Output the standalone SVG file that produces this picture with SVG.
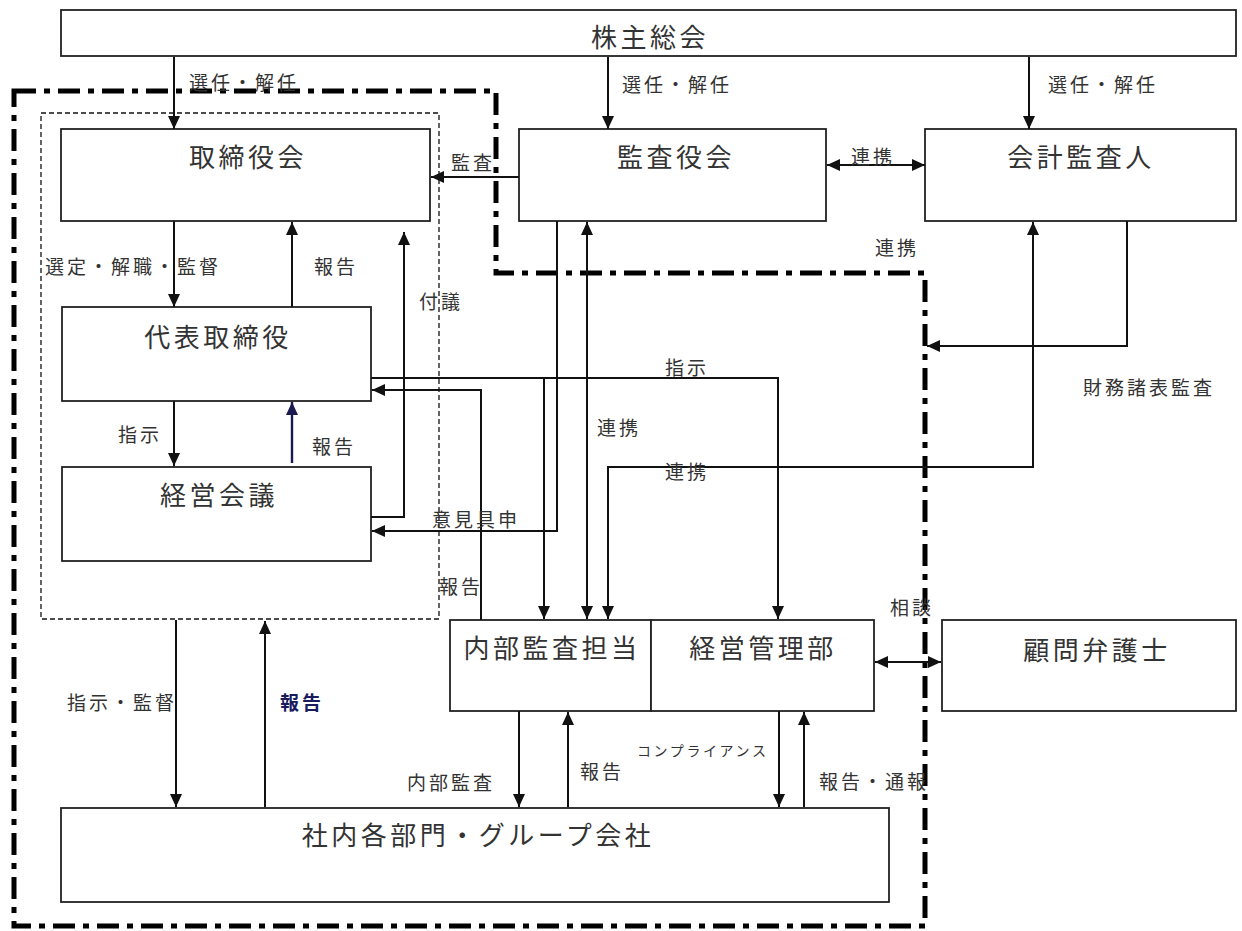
<svg xmlns="http://www.w3.org/2000/svg" width="1242" height="931" viewBox="0 0 1242 931">
<defs>
<style>
.box{fill:#fff;stroke:#222;stroke-width:1.8}
.nt{font-family:"Noto Sans CJK JP","Noto Sans",sans-serif;font-size:26px;letter-spacing:3.5px;fill:#333;text-anchor:middle}
.lb{font-family:"Noto Sans CJK JP","Noto Sans",sans-serif;font-size:19px;letter-spacing:3px;fill:#333}
.ln{fill:none;stroke:#111;stroke-width:2}
.ar{marker-end:url(#a)}
.dbl{marker-start:url(#a);marker-end:url(#a)}
.navy{stroke:#1a1a50}
</style>
<marker id="a" viewBox="0 0 13 12" refX="13" refY="6" markerWidth="13" markerHeight="12" markerUnits="userSpaceOnUse" orient="auto-start-reverse"><path d="M0,0 L13,6 L0,12 z" fill="#111"/></marker>
<marker id="n" viewBox="0 0 13 12" refX="13" refY="6" markerWidth="13" markerHeight="12" markerUnits="userSpaceOnUse" orient="auto"><path d="M0,0 L13,6 L0,12 z" fill="#1a1a50"/></marker>
</defs>
<rect width="1242" height="931" fill="#fff"/>
<g id="boundaries">
<path d="M14,91 H496 V273 H925 V926 H14 Z" fill="none" stroke="#000" stroke-width="5" stroke-dasharray="22 8 6 8"/>
<rect x="41" y="113" width="398" height="506" fill="none" stroke="#111" stroke-width="1.3" stroke-dasharray="5 3"/>
</g>
<g id="n-shareholders"><rect class="box" x="61" y="10" width="1175" height="46"/><text class="nt" x="650" y="47">株主総会</text></g>
<g id="n-board"><rect class="box" x="61" y="129" width="369" height="92"/><text class="nt" x="248" y="167">取締役会</text></g>
<g id="n-auditors"><rect class="box" x="519" y="129" width="307" height="92"/><text class="nt" x="676" y="167">監査役会</text></g>
<g id="n-accounting"><rect class="box" x="925" y="129" width="311" height="92"/><text class="nt" x="1081" y="167">会計監査人</text></g>
<g id="n-rep"><rect class="box" x="62" y="307" width="309" height="94"/><text class="nt" x="218" y="347">代表取締役</text></g>
<g id="n-mgmt"><rect class="box" x="62" y="467" width="309" height="94"/><text class="nt" x="219" y="505">経営会議</text></g>
<g id="n-internal"><rect class="box" x="450" y="620" width="201" height="91"/><text class="nt" x="552" y="658">内部監査担当</text></g>
<g id="n-admin"><rect class="box" x="651" y="620" width="223" height="91"/><text class="nt" x="763" y="658">経営管理部</text></g>
<g id="n-lawyer"><rect class="box" x="942" y="620" width="294" height="91"/><text class="nt" x="1097" y="660">顧問弁護士</text></g>
<g id="n-depts"><rect class="box" x="61" y="808" width="828" height="94"/><text class="nt" x="478" y="845">社内各部門・グループ会社</text></g>
<g id="connectors">
<path class="ln ar" d="M174,57 V129"/>
<path class="ln ar" d="M608,57 V129"/>
<path class="ln ar" d="M1029,57 V129"/>
<path class="ln ar" d="M519,177 H431"/>
<path class="ln dbl" d="M827,165 H925"/>
<path class="ln ar" d="M174,221 V307"/>
<path class="ln ar" d="M292,307 V222"/>
<path class="ln ar" d="M371,517 H404 V232"/>
<path class="ln ar" d="M174,401 V466"/>
<path class="ln navy" style="marker-end:url(#n);stroke-width:2.4" d="M292,463 V402"/>
<path class="ln ar" d="M371,378 H778 V619"/>
<path class="ln ar" d="M544,378 V619"/>
<path class="ln ar" d="M481,620 V390 H372"/>
<path class="ln ar" d="M557,221 V531 H372"/>
<path class="ln dbl" d="M587,222 V619"/>
<path class="ln dbl" d="M608,619 V467 H1033 V222"/>
<path class="ln ar" d="M1127,221 V346 H927"/>
<path class="ln dbl" d="M875,662 H941"/>
<path class="ln ar" d="M176,620 V807"/>
<path class="ln ar" d="M265,807 V621"/>
<path class="ln ar" d="M519,711 V807"/>
<path class="ln ar" d="M568,807 V712"/>
<path class="ln ar" d="M779,711 V807"/>
<path class="ln ar" d="M804,807 V712"/>
</g>
<g id="labels">
<text class="lb" x="189" y="90">選任・解任</text>
<text class="lb" x="622" y="92">選任・解任</text>
<text class="lb" x="1048" y="92">選任・解任</text>
<text class="lb" x="451" y="170">監査</text>
<text class="lb" x="851" y="164">連携</text>
<text class="lb" x="45" y="274">選定・解職・監督</text>
<text class="lb" x="314" y="274">報告</text>
<text class="lb" x="419" y="309">付議</text>
<text class="lb" x="875" y="255">連携</text>
<text class="lb" x="665" y="375">指示</text>
<text class="lb" x="1083" y="395">財務諸表監査</text>
<text class="lb" x="118" y="442">指示</text>
<text class="lb" x="312" y="454">報告</text>
<text class="lb" x="597" y="435">連携</text>
<text class="lb" x="665" y="479">連携</text>
<text class="lb" x="432" y="527">意見具申</text>
<text class="lb" x="439" y="594">報告</text>
<text class="lb" x="890" y="615">相談</text>
<text class="lb" x="67" y="710">指示・監督</text>
<text class="lb" x="280" y="710" style="fill:#1a1a5e;font-weight:bold">報告</text>
<text class="lb" x="637" y="756" style="font-size:14px;letter-spacing:2.6px">コンプライアンス</text>
<text class="lb" x="407" y="790">内部監査</text>
<text class="lb" x="580" y="779">報告</text>
<text class="lb" x="819" y="789">報告・通報</text>
</g>
</svg>
